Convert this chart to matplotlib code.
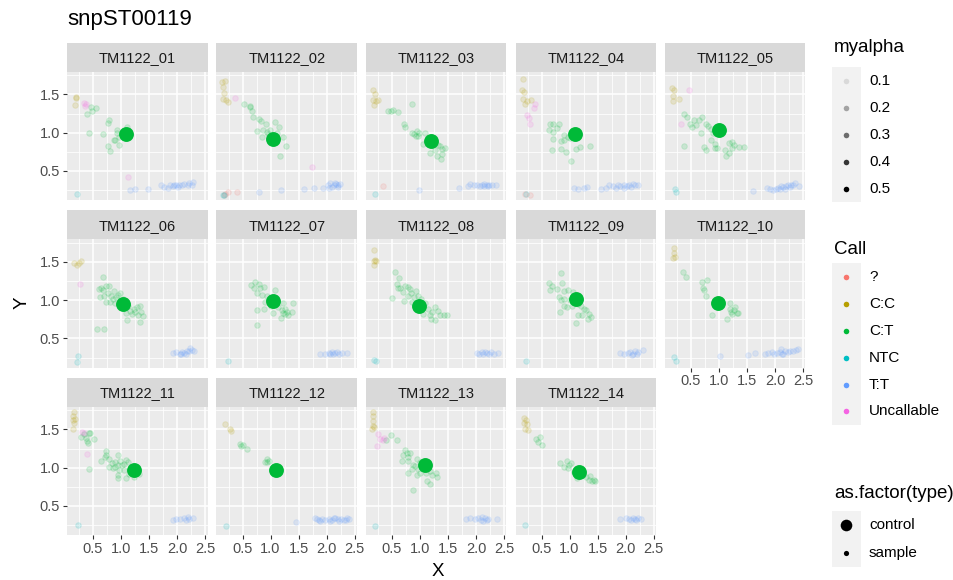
import numpy as np
import matplotlib
matplotlib.use("Agg")
import matplotlib.pyplot as plt
from matplotlib.patches import Rectangle

plt.rcParams['font.family'] = ['Liberation Sans', 'DejaVu Sans']

TITLE = "snpST00119"
PLATES = ["TM1122_01", "TM1122_02", "TM1122_03", "TM1122_04", "TM1122_05",
          "TM1122_06", "TM1122_07", "TM1122_08", "TM1122_09", "TM1122_10",
          "TM1122_11", "TM1122_12", "TM1122_13", "TM1122_14"]
CALLS = ["?", "C:C", "C:T", "NTC", "T:T", "Uncallable"]
CALL_COLORS = ["#F8766D", "#B79F00", "#00BA38", "#00BFC4", "#619CFF", "#F564E3"]
ALPHA_LEVELS = [0.1, 0.2, 0.3, 0.4, 0.5]
TYPES = ["control", "sample"]
X_TICKS = [0.5, 1.0, 1.5, 2.0, 2.5]
Y_TICKS = [0.5, 1.0, 1.5]

# control sample per plate (call C:T)
CONTROL_X = [1.09, 1.04, 1.19, 1.09, 1.00, 1.03, 1.05, 0.99, 1.11, 0.99, 1.24, 1.09, 1.09, 1.17]
CONTROL_Y = [0.98, 0.92, 0.895, 0.98, 1.035, 0.95, 0.99, 0.92, 1.02, 0.965, 0.97, 0.97, 1.04, 0.94]

# regular samples per plate: call -> [(X, Y), ...]
TM01 = {
    "C:C": [(0.19, 1.45), (0.18, 1.36), (0.20, 1.47)],
    "Uncallable": [(0.33, 1.39), (0.37, 1.38), (0.36, 1.35), (1.13, 0.42)],
    "C:T": [(0.39, 1.25), (0.46, 1.34), (0.49, 1.29), (0.56, 1.32), (0.42, 0.99), (0.68, 0.98),
            (0.76, 1.13), (0.79, 1.17), (0.76, 0.83), (0.81, 0.76), (0.88, 0.90), (0.90, 0.91),
            (0.96, 0.84), (0.93, 1.04), (0.92, 0.99), (1.11, 1.07), (0.97, 0.94)],
    "NTC": [(0.22, 0.20)],
    "T:T": [(1.16, 0.255), (1.25, 0.27), (1.49, 0.27), (1.71, 0.31), (1.76, 0.29), (1.83, 0.28),
            (1.87, 0.31), (1.92, 0.30), (1.98, 0.32), (2.03, 0.32), (2.09, 0.31), (2.13, 0.33),
            (2.19, 0.31), (2.22, 0.34), (2.26, 0.32), (2.29, 0.35), (2.01, 0.29), (1.94, 0.32)],
}
TM02 = {
    "C:C": [(0.14, 1.66), (0.18, 1.67), (0.16, 1.60), (0.17, 1.52), (0.15, 1.44), (0.20, 1.43), (0.24, 1.40)],
    "Uncallable": [(0.36, 1.45), (1.74, 0.555)],
    "C:T": [(0.535, 1.37), (0.63, 1.33), (0.64, 1.35), (0.67, 1.28), (0.69, 1.20), (0.80, 1.18),
            (0.83, 1.15), (0.92, 1.12), (1.08, 1.14), (1.15, 1.08), (0.75, 1.02), (0.87, 1.03),
            (0.93, 1.01), (0.96, 0.98), (0.85, 0.94), (1.11, 0.99), (1.22, 0.95), (1.27, 0.83),
            (1.17, 0.70), (0.99, 1.04)],
    "?": [(0.24, 0.22), (0.41, 0.22), (0.18, 0.20), (0.17, 0.19)],
    "NTC": [(0.17, 0.19), (0.16, 0.19)],
    "T:T": [(0.79, 0.22), (1.19, 0.25), (1.60, 0.27), (1.77, 0.28), (1.94, 0.28), (2.03, 0.32),
            (2.07, 0.34), (2.10, 0.29), (2.13, 0.31), (2.17, 0.33), (2.21, 0.31), (2.24, 0.33),
            (2.20, 0.29), (2.05, 0.28), (2.15, 0.34)],
}
TM03 = {
    "C:C": [(0.165, 1.56), (0.19, 1.51), (0.155, 1.43), (0.21, 1.42), (0.25, 1.43), (0.18, 1.36)],
    "C:T": [(0.43, 1.28), (0.48, 1.28), (0.52, 1.30), (0.61, 1.27), (0.85, 1.38), (0.72, 1.12),
            (0.74, 1.07), (0.85, 1.00), (0.90, 0.98), (0.94, 1.02), (0.97, 0.96), (1.09, 0.99),
            (1.05, 0.85), (1.18, 0.74), (1.27, 0.77), (1.36, 0.83), (1.40, 0.79), (1.39, 0.72),
            (1.30, 0.70), (1.37, 0.66), (1.45, 0.80), (1.32, 0.84), (0.93, 0.96), (0.99, 0.99)],
    "?": [(0.34, 0.30)],
    "NTC": [(0.19, 0.20)],
    "T:T": [(0.99, 0.25), (1.69, 0.28), (1.85, 0.30), (1.90, 0.33), (1.96, 0.31), (2.02, 0.32),
            (2.07, 0.30), (2.11, 0.32), (2.15, 0.30), (2.20, 0.31), (2.24, 0.32), (2.28, 0.31),
            (2.36, 0.31), (2.21, 0.30), (2.14, 0.33)],
}
TM04 = {
    "C:C": [(0.17, 1.70), (0.15, 1.56), (0.18, 1.53), (0.17, 1.44), (0.24, 1.42), (0.31, 1.43), (0.21, 1.38)],
    "Uncallable": [(0.39, 1.37), (0.36, 1.32), (0.24, 1.23), (0.27, 1.19), (0.29, 1.12)],
    "C:T": [(0.66, 1.12), (0.71, 1.11), (0.82, 1.12), (0.77, 1.06), (0.64, 1.03), (0.71, 1.01),
            (0.71, 0.92), (0.84, 0.89), (0.91, 0.91), (0.68, 0.78), (0.84, 0.79), (0.94, 0.75),
            (1.02, 0.63), (1.11, 0.79), (1.19, 0.81), (1.36, 0.82), (0.98, 0.95), (0.90, 0.97),
            (1.01, 0.93)],
    "?": [(0.30, 0.18), (0.21, 0.20)],
    "NTC": [(0.22, 0.20)],
    "T:T": [(1.08, 0.28), (1.15, 0.27), (1.25, 0.28), (1.32, 0.29), (1.57, 0.26), (1.65, 0.28),
            (1.71, 0.32), (1.77, 0.30), (1.83, 0.28), (1.86, 0.31), (1.91, 0.30), (1.97, 0.31),
            (2.03, 0.30), (2.07, 0.32), (2.13, 0.33), (2.17, 0.31), (2.22, 0.32), (2.10, 0.29),
            (1.98, 0.28)],
}
TM05 = {
    "C:C": [(0.155, 1.59), (0.19, 1.56), (0.17, 1.48), (0.18, 1.42), (0.29, 1.44)],
    "Uncallable": [(0.47, 1.56), (0.32, 1.11)],
    "C:T": [(0.37, 1.24), (0.42, 1.21), (0.49, 1.12), (0.56, 1.16), (0.64, 1.16), (0.70, 1.21),
            (0.52, 1.08), (0.59, 1.10), (0.68, 0.99), (0.77, 1.12), (0.81, 1.09), (0.86, 1.05),
            (0.89, 0.99), (0.86, 0.90), (0.92, 0.85), (0.74, 0.81), (0.77, 0.77), (0.93, 0.80),
            (0.97, 0.80), (1.11, 0.78), (1.17, 0.86), (1.24, 0.88), (1.27, 0.84), (1.35, 0.81),
            (1.45, 0.81), (1.18, 0.74), (1.12, 0.70), (1.23, 0.80), (0.37, 0.83)],
    "NTC": [(0.21, 0.26), (0.24, 0.22)],
    "T:T": [(1.61, 0.24), (1.86, 0.28), (1.91, 0.26), (1.97, 0.25), (2.02, 0.27), (2.06, 0.28),
            (2.10, 0.30), (2.15, 0.29), (2.19, 0.30), (2.23, 0.32), (2.28, 0.31), (2.32, 0.32),
            (2.36, 0.34), (2.42, 0.30), (2.09, 0.27), (2.18, 0.27), (2.26, 0.29)],
}
TM06 = {
    "C:C": [(0.16, 1.49), (0.22, 1.46), (0.29, 1.51), (0.25, 1.48)],
    "Uncallable": [(0.26, 1.21)],
    "C:T": [(0.68, 1.30), (0.61, 1.15), (0.65, 1.16), (0.68, 1.13), (0.73, 1.19), (0.79, 1.19),
            (0.62, 1.04), (0.70, 1.06), (0.76, 1.09), (0.82, 1.06), (0.88, 1.12), (0.85, 1.02),
            (0.91, 1.04), (0.95, 1.07), (0.99, 1.09), (0.73, 0.97), (0.80, 0.97), (0.89, 0.96),
            (1.03, 1.02), (1.10, 0.95), (1.13, 0.92), (1.09, 0.83), (1.16, 0.86), (1.19, 0.82),
            (1.25, 0.85), (1.29, 0.91), (1.33, 0.93), (1.35, 0.84), (1.30, 0.80), (1.39, 0.79),
            (1.11, 0.74), (1.33, 0.72), (0.57, 0.62), (0.70, 0.62), (1.23, 0.88)],
    "NTC": [(0.24, 0.265), (0.22, 0.19)],
    "T:T": [(1.93, 0.31), (1.99, 0.32), (2.05, 0.30), (2.09, 0.32), (2.13, 0.31), (2.17, 0.34),
            (2.22, 0.33), (2.26, 0.35), (2.30, 0.33), (2.16, 0.29), (2.07, 0.29), (2.24, 0.37)],
}
TM07 = {
    "C:T": [(0.655, 1.20), (0.73, 1.24), (0.79, 1.21), (0.70, 1.16), (0.82, 1.16), (0.88, 1.17),
            (0.76, 1.09), (0.85, 1.07), (0.94, 1.06), (1.08, 1.13), (0.97, 1.01), (0.91, 0.98),
            (0.76, 0.87), (0.88, 0.88), (1.00, 0.92), (1.04, 0.83), (1.14, 0.91), (1.22, 0.96),
            (1.26, 0.89), (1.29, 0.85), (1.22, 0.83), (1.18, 0.77), (1.32, 0.80), (1.39, 0.84),
            (1.40, 0.96), (0.75, 0.67), (1.26, 0.82), (1.20, 0.87)],
    "NTC": [(0.24, 0.20)],
    "T:T": [(1.89, 0.29), (1.98, 0.30), (2.04, 0.31), (2.10, 0.32), (2.15, 0.31), (2.18, 0.32),
            (2.23, 0.30), (2.36, 0.31), (2.12, 0.29), (2.06, 0.30), (2.27, 0.31)],
}
TM08 = {
    "C:C": [(0.18, 1.65), (0.20, 1.53), (0.18, 1.51), (0.21, 1.51), (0.17, 1.46)],
    "C:T": [(0.55, 1.37), (0.63, 1.29), (0.58, 1.21), (0.61, 1.16), (0.50, 1.03), (0.73, 1.19),
            (0.78, 1.17), (0.82, 1.14), (0.70, 1.11), (0.84, 1.09), (0.92, 1.12), (0.97, 1.06),
            (1.02, 1.02), (0.79, 1.06), (0.71, 0.99), (0.86, 0.98), (1.08, 0.96), (1.05, 0.82),
            (1.17, 0.80), (1.22, 0.84), (1.27, 0.91), (1.32, 0.86), (1.35, 0.80), (1.42, 0.81),
            (1.48, 0.80), (1.27, 0.74), (1.15, 0.89), (1.20, 0.76), (0.97, 0.91), (0.90, 1.04),
            (0.65, 1.16)],
    "NTC": [(0.18, 0.22), (0.21, 0.20)],
    "T:T": [(2.02, 0.31), (2.06, 0.30), (2.11, 0.32), (2.16, 0.32), (2.20, 0.31), (2.26, 0.32),
            (2.32, 0.30), (2.40, 0.31), (2.23, 0.29), (2.13, 0.30)],
}
TM09 = {
    "C:T": [(0.84, 1.36), (0.63, 1.23), (0.69, 1.18), (0.66, 1.13), (0.78, 1.15), (0.87, 1.22),
            (0.90, 1.12), (0.98, 1.13), (1.07, 1.11), (0.81, 1.04), (0.84, 1.00), (0.91, 1.02),
            (1.00, 1.00), (0.83, 0.85), (0.91, 0.92), (1.05, 0.92), (1.15, 0.95), (1.21, 0.92),
            (1.25, 0.89), (1.30, 0.87), (1.34, 0.82), (1.39, 0.78), (1.23, 0.80), (1.15, 0.80),
            (1.11, 0.70), (1.33, 0.76), (0.96, 0.91), (1.18, 1.00)],
    "NTC": [(0.23, 0.21)],
    "T:T": [(1.91, 0.31), (1.98, 0.30), (2.04, 0.31), (2.08, 0.32), (2.14, 0.30), (2.17, 0.34),
            (2.23, 0.32), (2.32, 0.35), (2.11, 0.28), (2.20, 0.29)],
}
TM10 = {
    "C:C": [(0.195, 1.68), (0.195, 1.62), (0.18, 1.55), (0.21, 1.57)],
    "C:T": [(0.35, 1.37), (0.41, 1.30), (0.70, 1.24), (0.78, 1.26), (0.72, 1.16), (0.73, 1.13),
            (0.76, 1.05), (0.87, 0.81), (1.15, 0.76), (1.19, 0.96), (1.21, 0.84), (1.24, 0.82),
            (1.28, 0.91), (1.32, 0.83), (1.26, 0.87), (1.34, 0.83), (1.20, 0.89)],
    "NTC": [(0.19, 0.26), (0.23, 0.21)],
    "T:T": [(1.02, 0.27), (1.51, 0.28), (1.64, 0.31), (1.82, 0.29), (1.88, 0.31), (1.94, 0.32),
            (1.98, 0.30), (2.04, 0.31), (2.09, 0.32), (2.13, 0.30), (2.17, 0.33), (2.23, 0.32),
            (2.27, 0.34), (2.32, 0.33), (2.38, 0.35), (2.41, 0.36), (2.11, 0.36), (2.14, 0.29)],
}
TM11 = {
    "C:C": [(0.16, 1.73), (0.15, 1.67), (0.18, 1.64), (0.14, 1.63), (0.16, 1.58), (0.15, 1.51)],
    "Uncallable": [(0.30, 1.47), (0.33, 1.46), (0.40, 1.18)],
    "C:T": [(0.29, 1.40), (0.34, 1.44), (0.37, 1.39), (0.43, 1.46), (0.40, 1.35), (0.41, 1.32),
            (0.52, 1.37), (0.44, 1.46), (0.43, 0.98), (0.64, 1.09), (0.73, 1.22), (0.74, 1.17),
            (0.72, 1.14), (0.78, 1.12), (0.78, 1.01), (0.86, 1.00), (0.89, 1.07), (0.95, 1.17),
            (0.94, 1.04), (0.99, 1.09), (1.01, 1.03), (1.05, 1.05), (1.09, 1.10), (1.13, 1.07),
            (1.06, 0.97), (0.97, 0.97), (0.95, 0.91), (0.94, 0.87), (1.09, 0.87), (1.15, 0.92),
            (1.24, 0.88), (1.32, 0.92), (1.23, 0.97), (0.83, 1.06), (0.90, 1.01)],
    "NTC": [(0.24, 0.25)],
    "T:T": [(1.93, 0.32), (1.99, 0.33), (2.05, 0.33), (2.13, 0.34), (2.19, 0.35), (2.22, 0.33),
            (2.28, 0.34), (2.16, 0.32)],
}
TM12 = {
    "C:C": [(0.18, 1.57), (0.27, 1.51), (0.29, 1.48)],
    "C:T": [(0.46, 1.31), (0.51, 1.30), (0.48, 1.29), (0.58, 1.25), (0.93, 1.12), (0.97, 1.09),
            (0.90, 1.08), (0.94, 1.07)],
    "NTC": [(0.21, 0.24)],
    "T:T": [(1.45, 0.29), (1.80, 0.34), (1.86, 0.31), (1.92, 0.33), (1.98, 0.32), (2.04, 0.33),
            (2.10, 0.32), (2.16, 0.34), (2.20, 0.33), (2.25, 0.33), (2.31, 0.32), (2.37, 0.34),
            (2.40, 0.33), (1.89, 0.30), (2.07, 0.30), (2.22, 0.30), (2.13, 0.34), (2.34, 0.31),
            (1.83, 0.33)],
}
TM13 = {
    "C:C": [(0.165, 1.73), (0.155, 1.68), (0.165, 1.61), (0.155, 1.55), (0.18, 1.53), (0.14, 1.51)],
    "Uncallable": [(0.25, 1.44), (0.29, 1.38), (0.33, 1.36), (0.24, 1.29), (0.36, 1.39)],
    "C:T": [(0.40, 1.36), (0.48, 1.43), (0.58, 1.36), (0.73, 1.23), (0.76, 1.19), (0.82, 1.19),
            (0.69, 1.17), (0.79, 1.14), (0.67, 1.09), (0.79, 1.09), (0.94, 1.11), (1.00, 1.07),
            (0.88, 1.03), (0.85, 0.98), (0.91, 1.02), (0.97, 0.98), (0.79, 0.93), (0.94, 0.90),
            (1.00, 0.93), (1.11, 0.93), (1.18, 0.96), (1.22, 0.90), (1.28, 0.93), (1.30, 0.88),
            (1.12, 0.83), (1.17, 0.79), (0.88, 0.71), (1.06, 1.00)],
    "NTC": [(0.19, 0.24)],
    "T:T": [(1.82, 0.33), (1.89, 0.34), (1.98, 0.33), (2.04, 0.34), (2.08, 0.32), (2.13, 0.30),
            (2.16, 0.34), (2.22, 0.33), (2.37, 0.33), (2.10, 0.35), (2.19, 0.32)],
}
TM14 = {
    "C:C": [(0.18, 1.65), (0.23, 1.63), (0.19, 1.59), (0.24, 1.57), (0.21, 1.51), (0.25, 1.49)],
    "C:T": [(0.41, 1.38), (0.47, 1.40), (0.44, 1.33), (0.51, 1.30), (0.83, 1.06), (0.90, 1.01),
            (0.96, 1.09), (0.99, 1.04), (1.02, 1.06), (0.97, 0.99), (1.08, 0.95), (1.14, 0.86),
            (1.24, 0.91), (1.30, 0.88), (1.34, 0.84), (1.40, 0.82), (1.46, 0.82), (1.37, 0.89),
            (1.43, 0.84)],
    "NTC": [(0.21, 0.25)],
    "T:T": [(1.90, 0.33), (2.01, 0.34), (2.07, 0.33), (2.13, 0.34), (2.17, 0.33), (2.22, 0.34),
            (2.28, 0.33), (2.19, 0.32), (2.10, 0.32)],
}
SAMPLES = [TM01, TM02, TM03, TM04, TM05, TM06, TM07, TM08, TM09, TM10, TM11, TM12, TM13, TM14]

# ---- layout (pixels) ----
W, H = 954, 580
COL_LEFT = [67, 216.5, 366, 515.5, 665]
ROW_TOP = [71.5, 239, 406.5]
PW, PH = 140.5, 128.5
STRIP_H = 29
XLIM = (0.035, 2.544)
YLIM = (0.12, 1.80)

PANEL_BG = "#EBEBEB"
STRIP_BG = "#D9D9D9"
TICK_TXT = "#4D4D4D"
color_of = dict(zip(CALLS, CALL_COLORS))


def frac(left, top, w, h):
    return [left / W, 1 - (top + h) / H, w / W, h / H]


fig = plt.figure(figsize=(W / 100, H / 100), dpi=100)
fig.patch.set_facecolor("white")

for i, plate in enumerate(PLATES):
    r, c = divmod(i, 5)
    left, top = COL_LEFT[c], ROW_TOP[r]
    ax = fig.add_axes(frac(left, top, PW, PH))
    ax.set_facecolor(PANEL_BG)
    ax.set_xlim(*XLIM)
    ax.set_ylim(*YLIM)
    ax.set_xticks(X_TICKS)
    ax.set_xticks([0.25, 0.75, 1.25, 1.75, 2.25], minor=True)
    ax.set_yticks(Y_TICKS)
    ax.set_yticks([0.25, 0.75, 1.25, 1.75], minor=True)
    ax.grid(which="major", color="white", linewidth=1.1)
    ax.grid(which="minor", color="white", linewidth=0.55)
    ax.set_axisbelow(True)
    for s in ax.spines.values():
        s.set_visible(False)
    ax.tick_params(which="minor", length=0)
    ax.tick_params(which="major", length=3, width=0.8, color="#333333",
                   labelcolor=TICK_TXT, labelsize=10.5, pad=2)
    ax.set_xticklabels(["0.5", "1.0", "1.5", "2.0", "2.5"])
    ax.set_yticklabels(["0.5", "1.0", "1.5"])
    show_x = (r == 2) or (r == 1 and c == 4)
    show_y = (c == 0)
    if not show_x:
        ax.tick_params(axis="x", length=0, labelbottom=False)
    if not show_y:
        ax.tick_params(axis="y", length=0, labelleft=False)

    for call in CALLS:
        pts = SAMPLES[i].get(call)
        if not pts:
            continue
        arr = np.array(pts)
        ax.scatter(arr[:, 0], arr[:, 1], s=16, color=color_of[call],
                   edgecolors=color_of[call], linewidths=0.7, alpha=0.14, zorder=3)
    ax.scatter([CONTROL_X[i]], [CONTROL_Y[i]], s=115, color=color_of["C:T"],
               linewidths=0, alpha=1.0, zorder=4)

    sax = fig.add_axes(frac(left, top - STRIP_H, PW, STRIP_H))
    sax.set_facecolor(STRIP_BG)
    sax.set_xticks([])
    sax.set_yticks([])
    for s in sax.spines.values():
        s.set_visible(False)
    sax.text(0.5, 0.45, plate, ha="center", va="center", fontsize=10.5,
             color="#1A1A1A", transform=sax.transAxes)

# titles
fig.text(67 / W, 1 - 20 / H, TITLE, ha="left", va="center", fontsize=16, color="black")
fig.text(438 / W, 1 - 572 / H, "X", ha="center", va="center", fontsize=13.5, color="black")
fig.text(22 / W, 1 - 303 / H, "Y", ha="center", va="center", fontsize=13.5,
         rotation=90, color="black")

# legends drawn in pixel space
lax = fig.add_axes([0, 0, 1, 1], zorder=10)
lax.set_xlim(0, W)
lax.set_ylim(H, 0)
lax.axis("off")
KEY_X = 846.5
LAB_X = 869

lax.text(834, 47, "myalpha", ha="left", va="center", fontsize=13.5)
lax.add_patch(Rectangle((832, 67), 29, 135, facecolor="#F2F2F2", edgecolor="none"))
alpha_y = [81, 108, 135, 162, 189]
for a, yy in zip(ALPHA_LEVELS, alpha_y):
    aa = 0.1 + (a - 0.1) / 0.4 * 0.9
    lax.scatter([KEY_X], [yy], s=16, color="black", alpha=aa, linewidths=0)
    lax.text(LAB_X, yy, f"{a}", ha="left", va="center", fontsize=11, color="black")

lax.text(834, 250, "Call", ha="left", va="center", fontsize=13.5)
lax.add_patch(Rectangle((832, 263), 29, 162, facecolor="#F2F2F2", edgecolor="none"))
call_y = [277, 304, 331, 358, 385, 411]
for call, col, yy in zip(CALLS, CALL_COLORS, call_y):
    lax.scatter([KEY_X], [yy], s=16, color=col, linewidths=0)
    lax.text(LAB_X, yy, call, ha="left", va="center", fontsize=11, color="black")

lax.text(834, 494, "as.factor(type)", ha="left", va="center", fontsize=13.5)
lax.add_patch(Rectangle((832, 511), 29, 56, facecolor="#F2F2F2", edgecolor="none"))
type_y = [525, 553]
type_s = [70, 14]
for t, yy, ss in zip(TYPES, type_y, type_s):
    lax.scatter([KEY_X], [yy], s=ss, color="black", linewidths=0)
    lax.text(LAB_X, yy, t, ha="left", va="center", fontsize=11, color="black")

fig.savefig("out.png", dpi=100)
